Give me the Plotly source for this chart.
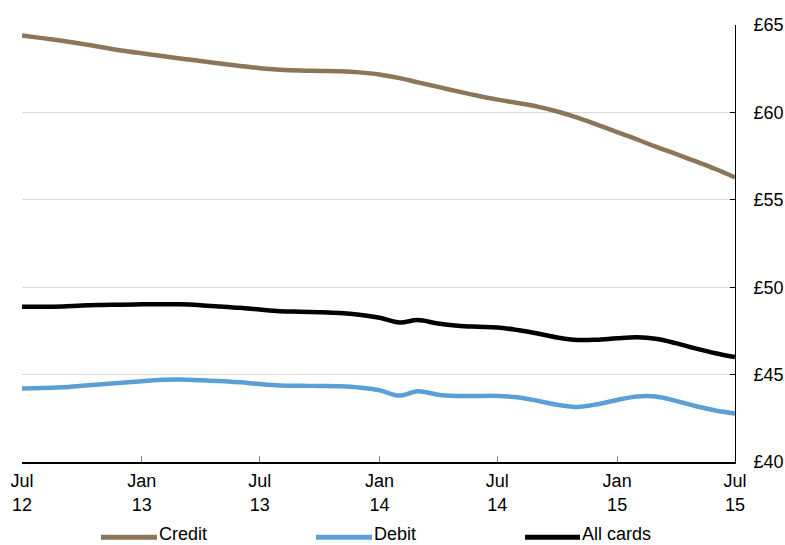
import pandas as pd
import plotly.graph_objects as go

# Monthly average transaction value, Jul 2012 - Jul 2015
months = pd.date_range("2012-07-01", "2015-07-01", freq="MS")

credit = [64.40, 64.25, 64.10, 63.92, 63.73, 63.54, 63.38, 63.23, 63.08, 62.94,
          62.80, 62.66, 62.53, 62.44, 62.39, 62.37, 62.35, 62.29, 62.17, 61.96,
          61.72, 61.46, 61.20, 60.95, 60.73, 60.54, 60.33, 60.05, 59.70, 59.30,
          58.87, 58.45, 58.04, 57.63, 57.21, 56.76, 56.28]

debit = [44.21, 44.23, 44.28, 44.36, 44.45, 44.54, 44.62, 44.70, 44.72, 44.68,
         44.64, 44.56, 44.46, 44.38, 44.36, 44.35, 44.33, 44.26, 44.10, 43.80,
         44.05, 43.85, 43.78, 43.78, 43.78, 43.70, 43.50, 43.28, 43.15, 43.30,
         43.55, 43.75, 43.75, 43.50, 43.20, 42.95, 42.78]

all_cards = [48.88, 48.88, 48.90, 48.95, 48.98, 49.00, 49.02, 49.03, 49.02, 48.97,
             48.90, 48.82, 48.72, 48.63, 48.60, 48.57, 48.52, 48.42, 48.25, 47.98,
             48.12, 47.92, 47.80, 47.74, 47.70, 47.55, 47.35, 47.12, 46.98, 47.00,
             47.08, 47.13, 47.05, 46.80, 46.50, 46.22, 46.00]

series_names = ["Credit", "Debit", "All cards"]
series_values = [credit, debit, all_cards]
series_colors = ["#8c7659", "#5aa0d6", "#000000"]

tick_dates = ["2012-07-01", "2013-01-01", "2013-07-01", "2014-01-01",
              "2014-07-01", "2015-01-01", "2015-07-01"]
tick_labels = ["Jul<br>12", "Jan<br>13", "Jul<br>13", "Jan<br>14",
               "Jul<br>14", "Jan<br>15", "Jul<br>15"]
y_ticks = [40, 45, 50, 55, 60, 65]
y_labels = ["\u00a3%d" % v for v in y_ticks]

FONT = "Liberation Sans, Arial, sans-serif"
FS = 18

fig = go.Figure()
for name, vals, col in zip(series_names, series_values, series_colors):
    fig.add_trace(go.Scatter(
        x=months, y=vals, name=name, mode="lines",
        line=dict(color=col, width=4.5, shape="spline", smoothing=1.0),
        showlegend=False,
    ))

# Legend drawn below the axis: a short line swatch followed by the label
legend_pos = [(0.1108, 0.1893), (0.4123, 0.4909), (0.7055, 0.7826)]
leg_line_y = -0.172
leg_text_y = -0.1655
for (x0, x1), name, col in zip(legend_pos, series_names, series_colors):
    fig.add_shape(type="line", xref="paper", yref="paper",
                  x0=x0, x1=x1, y0=leg_line_y, y1=leg_line_y,
                  line=dict(color=col, width=5))
    fig.add_annotation(xref="paper", yref="paper", x=x1 + 0.002, y=leg_text_y,
                       text=name, showarrow=False, xanchor="left",
                       yanchor="middle", borderpad=0,
                       font=dict(family=FONT, size=FS, color="#000000"))

fig.update_layout(
    width=785, height=545,
    margin=dict(l=22, r=50, t=25, b=83, autoexpand=False),
    paper_bgcolor="white", plot_bgcolor="white",
    font=dict(family=FONT, size=FS, color="#000000"),
    xaxis=dict(
        range=[months[0], months[-1]],
        tickvals=tick_dates, ticktext=tick_labels,
        showgrid=False, zeroline=False, automargin=False,
        showline=True, linecolor="#000000", linewidth=1.5,
        ticks="inside", ticklen=6, tickcolor="#888888", tickwidth=1,
        ticklabelstandoff=2,
    ),
    yaxis=dict(
        side="right", range=[40, 65], tickvals=y_ticks, ticktext=y_labels,
        showgrid=True, gridcolor="#d9d9d9", gridwidth=1,
        zeroline=False, automargin=False,
        showline=True, linecolor="#000000", linewidth=1,
        ticks="inside", ticklen=5, tickcolor="#000000", tickwidth=1,
        ticklabelstandoff=14,
    ),
)

fig.write_html("out.html")
